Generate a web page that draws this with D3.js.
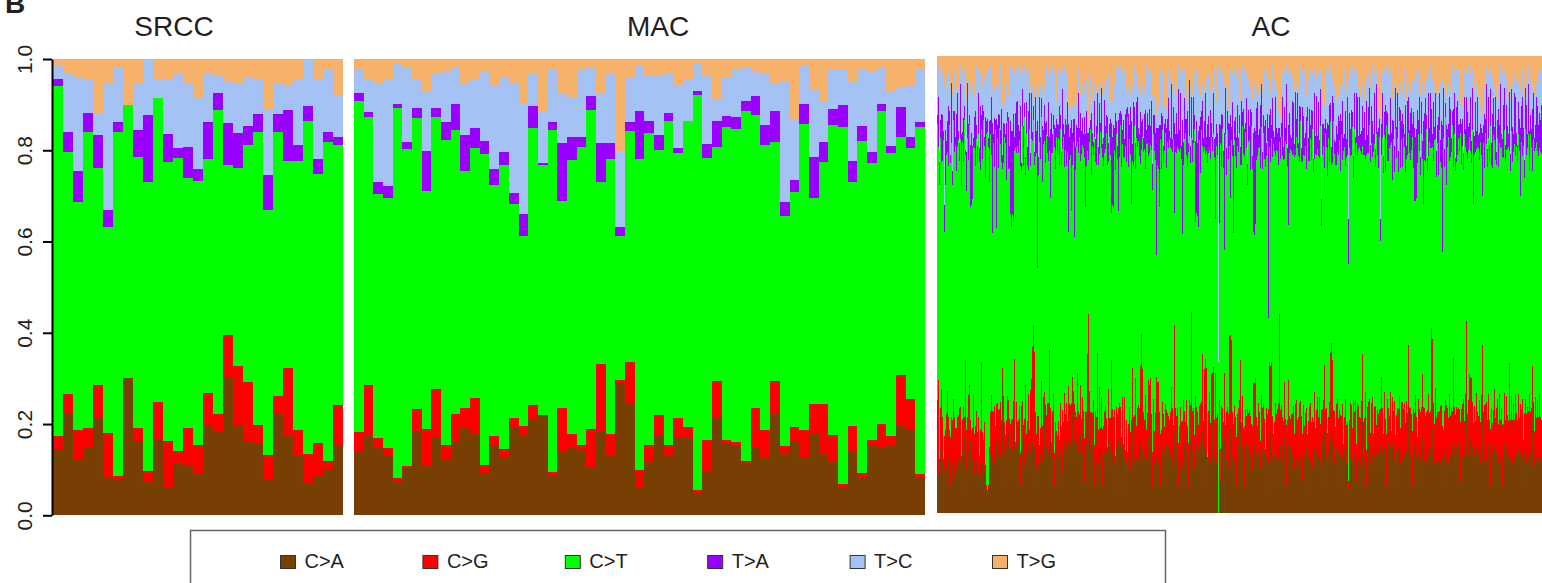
<!DOCTYPE html>
<meta charset="utf-8">
<style>
    body { margin: 0; background: #fff; }
    text { font-family: "Liberation Sans", Arial, sans-serif; fill: #231f20; }
    .bars rect { shape-rendering: crispEdges; }
</style>
<body>
<svg id="chart" width="1542" height="583"></svg>
<script src="https://d3js.org/d3.v7.min.js"></script>
<script>
// mutation types, bottom to top
var types = ["C>A", "C>G", "C>T", "T>A", "T>C", "T>G"];
var typeColors = ["#783f04", "#ff0000", "#00ff00", "#9900ff", "#a4c2f4", "#f6b26b"];
var yTicks = [0, 0.2, 0.4, 0.6, 0.8, 1.0];
var panelNames = ["SRCC", "MAC", "AC"];

// SRCC, % per sample
var srccCA = [14.5,22.3,12.3,15.0,21.4,8.2,8.0,30.1,16.3,7.4,16.6,6.1,11.3,11.0,9.1,19.8,18.5,30.3,19.8,16.3,15.8,7.8,22.2,17.4,13.2,6.9,8.7,10.1,15.3];
var srccCG = [2.9,4.3,6.5,4.1,7.1,9.8,0.6,0,2.8,2.3,8.2,10.2,2.8,8.1,6.3,7.0,3.7,9.2,12.9,12.9,4.0,5.4,3.9,14.9,5.6,6.5,7.1,1.8,8.9];
var srccCT = [76.7,53.0,49.8,64.9,47.6,45.1,75.5,59.8,59.4,63.3,66.6,61.1,64.2,54.8,57.8,51.2,66.7,37.3,43.4,51.9,64.2,53.6,57.9,45.3,58.8,73.0,59.1,69.9,56.9];
var srccTA = [1.5,4.4,6.8,4.1,7.2,3.7,2.1,0,5.9,14.7,0,6.1,2.1,6.8,2.8,8.2,3.6,9.1,7.6,4.2,3.9,7.7,3.9,11.3,3.5,3.3,3.1,2.2,1.8];
var srccTC = [2.9,12.7,20.6,7.5,4.7,27.7,11.9,0,10.3,12.3,4.2,12.0,16.5,13.9,15.5,10.7,3.8,9.3,11.0,10.5,7.5,14.4,6.8,5.4,14.3,10.3,17.6,13.8,9.0];
var srccTG = [1.5,3.3,4.0,4.4,12.0,5.5,1.9,10.1,5.3,0,4.4,4.5,3.1,5.4,8.5,3.1,3.7,4.8,5.3,4.2,4.6,11.1,5.3,5.7,4.6,0,4.4,2.2,8.1];

// MAC, % per sample
var macCA = [14.2,17.4,14.9,13.0,7.2,10.3,18.4,10.9,16.9,12.1,16.0,19.1,17.9,9.2,15.3,12.7,19.1,17.3,21.0,21.9,8.6,14.0,14.7,14.3,10.5,18.2,13.3,28.9,24.4,6.1,11.6,17.5,13.1,17.1,16.9,4.9,9.6,21.4,15.6,15.3,11.2,14.7,12.5,22.2,13.5,16.2,12.7,17.9,13.4,11.6,5.9,13.8,8.1,15.3,14.7,15.2,19.5,18.8,8.1];
var macCG = [4.0,11.1,2.0,1.7,0.9,0.6,5.0,8.1,10.7,3.2,6.1,4.5,7.7,1.9,2.0,1.9,2.3,2.2,3.1,0,0.8,9.6,3.2,1.0,8.5,14.9,4.6,0.7,9.1,3.9,3.9,4.4,2.4,4.3,2.4,0.6,7.0,8.0,1.0,0.7,0.8,8.9,6.1,7.2,1.6,3.1,6.1,6.6,11.1,6.1,0.9,5.7,1.1,1.3,5.4,2.1,11.2,6.6,0.9];
var macCT = [72.6,58.8,53.5,54.8,81.2,69.3,63.7,52.0,59.7,67.0,62.4,51.8,54.9,68.1,55.0,62.1,46.8,41.7,60.8,54.8,75.1,45.2,60.0,65.4,69.9,39.9,60.1,31.7,50.7,68.0,68.2,58.2,70.9,58.0,67.1,86.6,61.8,51.3,68.5,68.6,76.6,64.1,62.5,52.4,50.6,51.5,67.0,45.0,53.0,67.8,78.3,53.5,72.8,60.6,68.5,62.1,52.2,55.1,76.1];
var macTA = [1.7,1.1,2.6,2.7,0.8,1.6,2.1,8.8,1.9,3.9,5.6,7.9,4.3,2.8,3.5,2.9,2.4,4.8,4.8,0.5,1.7,12.7,5.0,2.2,3.0,8.7,3.7,1.8,2.0,10.6,2.7,3.2,1.7,1.1,0.1,0.9,3.0,5.7,2.4,2.7,2.2,4.2,4.4,6.8,2.9,2.6,4.3,9.0,4.4,3.5,4.9,4.6,3.3,2.4,1.5,1.5,6.6,2.4,1.1];
var macTC = [5.2,7.0,21.6,23.2,8.8,16.4,6.3,13.2,7.5,11.1,7.9,11.3,10.7,15.1,18.3,16.3,24.1,24.3,7.2,11.2,11.5,11.0,8.6,14.8,6.1,10.7,15.2,16.5,9.7,10.0,9.9,13.2,8.8,13.8,9.0,6.0,14.9,4.7,8.6,10.5,7.2,5.2,11.4,6.1,26.6,13.4,8.4,14.8,8.7,8.8,7.8,17.6,12.5,17.7,8.1,11.9,4.4,11.4,11.6];
var macTG = [2.3,4.6,5.4,4.6,1.1,1.8,4.5,7.0,3.3,2.7,2.0,5.4,4.5,2.9,5.9,4.1,5.3,9.7,3.1,11.6,2.3,7.5,8.5,2.3,2.0,7.6,3.1,20.4,4.1,1.4,3.7,3.5,3.1,5.7,4.5,1.0,3.7,8.9,3.9,2.2,2.0,2.9,3.1,5.3,4.8,13.2,1.5,6.7,9.4,2.2,2.2,4.8,2.2,2.7,1.8,7.2,6.1,5.7,2.2];

// AC, % per sample (rough reads, 20 samples per line)
var acCA = [
21,8,9,14,8,11,6,9,13,10,21,12,14,6,15,11,17,8,12,10,
15,12,18,11,5,14,13,17,12,10,15,13,20,16,8,12,14,9,13,11,
10,9,7,8,14,11,7,9,6,5,4,5,9,13,22,12,15,11,14,16,
18,13,15,12,16,30,17,13,6,15,12,18,11,14,9,13,16,20,10,14,
11,15,13,6,12,16,14,10,17,13,12,15,11,14,23,16,13,15,12,10,
14,11,6,13,16,12,15,22,11,14,17,13,12,15,10,12,14,6,11,13,
6,12,10,14,11,9,13,15,17,14,12,16,18,15,13,23,14,16,12,15,
17,13,15,18,12,14,16,7,13,15,20,22,17,14,12,16,13,6,15,12,
14,11,16,13,15,6,12,14,11,13,10,16,12,14,21,13,15,11,5,14,
12,16,13,15,11,14,7,12,9,11,5,13,12,10,14,21,13,11,15,12,
14,12,17,16,23,14,12,13,15,11,14,17,15,13,12,6,14,11,13,12,
15,11,13,6,12,14,10,13,11,15,12,14,10,13,21,12,11,18,13,15,
12,6,14,11,13,10,12,15,11,14,13,6,12,16,21,14,12,10,13,15,
12,14,11,16,13,18,12,15,14,13,6,12,15,11,14,20,13,12,15,11,
13,0,14,7,12,15,11,17,13,12,14,10,20,18,16,12,13,11,14,6,
12,15,13,21,11,14,12,6,13,15,12,14,11,13,12,10,14,15,12,13,
11,14,12,10,13,15,11,13,5,12,14,11,16,18,14,12,7,13,11,12,
14,12,22,15,13,11,14,16,12,6,13,15,12,14,11,13,12,10,14,12,
13,11,15,12,14,7,12,13,11,15,5,12,14,11,13,10,12,14,11,13,
15,12,14,11,13,16,12,18,14,12,6,13,15,17,24,16,13,11,12,15,
12,14,11,13,15,12,6,14,12,11,9,5,13,12,14,11,15,13,12,7,
14,12,13,11,15,22,13,12,14,6,13,15,12,11,14,13,10,12,15,13,
11,13,12,15,17,13,11,14,12,6,13,15,12,14,11,16,13,12,7,14,
12,15,13,11,14,12,16,13,11,14,12,23,15,13,12,6,14,15,13,12,
7,13,15,12,14,17,13,12,14,11,15,13,12,14,25,18,13,11,15,12,
14,12,13,11,15,12,6,14,13,12,15,11,14,13,12,15,21,13,11,14,
12,15,13,7,14,12,16,13,15,25,14,12,18,16,17,14,12,13,11,15,
12,14,13,11,15,22,13,12,14,11,13,15,12,6,14,13,11,15,12,14,
13,11,15,12,14,6,13,15,12,14,11,13,20,12,14,11,13,12,15,13,
11,14,12,13,15,12,6,14,13,11,15,12,14,13,12,21,14,11,13,12,
14,12,15,11,13];
var acCG = [
4,21,3,9,20,10,6,8,5,12,7,9,4,11,6,10,8,13,7,9,
6,10,5,12,8,7,11,4,22,9,6,13,8,5,10,7,12,9,6,11,
8,12,6,10,19,7,9,11,5,1,1,1,6,9,4,11,7,13,5,8,
6,10,8,12,5,2,9,7,11,6,13,8,10,5,12,7,9,14,6,10,
9,5,11,7,13,8,6,10,12,4,9,11,7,14,6,21,28,22,10,8,
7,11,9,6,12,8,10,5,13,7,9,11,24,8,6,10,12,7,9,5,
11,8,6,10,9,13,7,11,5,10,8,12,6,9,11,7,13,8,10,6,
14,9,7,11,8,12,6,10,9,7,15,22,10,8,11,6,12,9,7,10,
21,8,11,6,10,13,7,9,12,8,5,11,9,7,13,10,6,12,8,9,
10,7,12,8,6,11,9,13,5,10,8,7,11,9,6,12,8,10,16,7,
9,12,6,18,15,18,10,8,11,7,9,12,14,16,10,8,11,7,9,18,
14,18,9,11,7,10,12,6,13,8,10,7,11,9,6,12,8,24,10,7,
11,9,6,12,8,10,13,7,9,11,6,10,12,8,23,9,11,7,13,8,
10,6,12,9,11,17,8,18,19,19,7,10,12,9,17,11,19,8,16,10,
9,0,11,7,12,8,10,14,6,11,9,12,19,21,23,10,7,12,8,11,
10,8,12,14,9,11,7,13,10,6,12,8,11,9,7,10,15,14,17,9,
8,11,10,6,12,9,13,7,10,11,8,12,17,15,19,9,11,7,13,10,
9,12,22,8,11,10,7,12,9,13,8,14,10,6,12,9,11,8,10,13,
7,11,9,12,8,10,13,6,11,9,12,8,10,13,7,11,9,12,8,10,
11,9,12,8,10,7,13,15,9,11,12,8,10,17,15,18,9,12,7,10,
13,8,11,9,6,12,10,7,13,9,11,2,8,12,10,7,11,9,13,8,
10,12,8,11,9,13,7,10,12,8,11,9,13,7,10,12,8,11,9,6,
12,9,11,8,13,10,7,12,9,11,13,8,10,12,7,11,9,13,10,8,
11,9,12,8,10,13,7,11,9,12,10,14,8,11,9,12,10,7,13,9,
10,12,8,11,9,14,10,12,7,11,9,13,10,8,17,20,11,9,12,10,
8,11,9,13,10,7,12,9,11,13,8,10,12,9,11,7,14,10,12,9,
11,8,10,13,9,12,10,7,11,17,9,12,13,14,13,10,8,11,9,12,
10,8,12,9,11,15,9,12,10,13,8,11,9,12,10,7,11,13,9,10,
12,9,11,8,10,13,7,11,9,12,10,8,13,9,11,10,12,8,11,9,
10,12,9,11,8,13,10,9,12,11,8,10,13,9,11,12,10,8,12,9,
11,9,12,10,8];
var acCT = [
61,51,62,59,51,56,72,45,53,58,55,55,67,61,60,53,61,58,63,58,
59,62,54,58,62,62,55,65,46,55,61,52,57,48,50,51,54,65,57,59,
60,62,67,57,51,61,70,61,66,76,80,74,61,61,53,40,59,54,65,39,
58,54,62,56,58,44,52,63,64,54,59,53,56,45,44,44,40,46,67,54,
61,58,60,63,55,59,59,65,48,65,59,49,66,51,52,46,45,43,56,64,
32,55,67,60,56,56,55,56,54,60,59,53,44,46,66,56,58,67,56,65,
62,62,61,60,60,56,63,49,59,52,59,34,54,56,42,47,55,37,53,59,
51,56,62,51,57,57,57,64,45,54,45,34,55,62,54,59,54,68,54,58,
48,61,50,66,54,62,57,59,55,63,65,50,62,58,33,45,46,58,65,59,
57,43,56,61,61,55,67,52,68,58,72,58,58,65,47,47,55,62,48,63,
57,59,55,47,39,52,57,61,50,62,62,49,53,50,59,61,58,62,56,27,
48,47,45,64,60,59,56,61,60,54,60,58,64,58,51,59,62,25,56,60,
57,63,63,56,61,41,52,59,64,54,57,67,56,54,38,56,58,67,39,42,
43,45,57,53,59,46,59,51,44,48,69,56,54,59,53,49,51,57,34,60,
57,33,39,67,54,61,59,27,63,54,60,57,42,30,45,56,43,57,60,60,
60,56,59,45,57,58,62,59,62,58,52,60,58,56,64,59,33,33,33,59,
59,58,58,61,57,55,60,56,66,55,61,20,47,46,49,56,66,60,54,59,
57,53,38,56,60,57,60,48,62,61,58,34,60,58,61,58,54,63,55,58,
59,60,53,60,58,59,58,59,59,55,68,57,56,58,58,63,58,50,62,57,
56,57,54,64,41,56,56,44,61,57,58,61,54,49,41,44,62,58,58,55,
54,61,58,55,61,54,68,59,51,61,59,48,62,54,56,64,51,62,54,66,
54,58,59,62,53,46,59,61,50,66,58,54,60,61,57,52,65,57,54,63,
57,55,60,37,49,59,60,55,55,67,54,54,61,53,64,51,59,51,67,58,
59,55,59,58,57,53,60,56,56,56,57,47,55,57,56,65,56,47,43,48,
61,58,57,54,59,48,44,57,55,62,56,52,60,57,41,42,53,64,54,56,
59,54,61,55,55,38,64,55,60,51,57,62,51,59,56,62,43,59,57,53,
56,59,57,64,54,57,52,63,54,37,59,53,53,50,48,59,49,57,59,55,
58,61,53,62,53,33,59,53,60,56,57,56,58,65,56,57,59,56,57,56,
57,58,55,59,60,58,60,57,58,55,57,63,47,56,57,58,58,60,52,59,
58,57,59,46,59,53,65,54,59,58,56,60,51,61,57,44,57,65,54,61,
55,57,56,58,60];
var acTA = [
2,11,5,4,11,10,2,6,12,3,7,13,3,2,13,3,2,9,2,13,
12,2,4,12,12,2,10,3,1,9,12,8,2,14,16,12,2,7,12,3,
4,9,3,14,3,12,2,2,14,3,3,2,14,3,13,25,2,11,2,24,
3,12,3,3,12,3,9,3,2,13,2,12,5,20,22,18,24,3,8,11,
10,6,2,13,2,8,9,3,4,7,4,13,8,3,10,2,3,3,13,5,
32,4,10,5,4,13,3,8,9,3,4,13,3,15,9,4,3,5,9,4,
7,3,13,3,3,13,3,7,7,9,11,24,5,6,20,7,5,26,5,5,
3,13,2,11,5,6,3,9,16,12,4,6,3,2,14,3,3,8,5,9,
9,4,11,2,13,3,6,12,5,4,11,4,3,8,20,15,18,5,13,3,
3,20,10,3,12,3,9,4,7,12,2,12,3,11,18,4,14,4,6,8,
11,3,5,12,6,4,3,8,13,3,7,7,10,4,11,6,4,8,6,28,
8,9,18,3,13,3,4,6,3,9,5,11,2,2,14,3,7,20,4,9,
3,13,5,12,3,25,5,9,3,8,12,2,12,4,9,5,10,3,18,20,
16,22,3,13,4,10,3,6,13,3,9,8,3,11,3,3,9,4,18,5,
5,0,22,4,12,3,4,26,10,6,4,8,5,18,3,12,20,4,9,7,
9,3,4,4,14,3,10,6,2,11,5,7,3,14,3,3,22,24,20,12,
12,3,4,14,9,4,4,7,11,3,6,42,7,12,3,13,3,3,13,5,
4,8,3,5,3,13,3,11,3,13,4,22,9,3,3,12,11,3,14,4,
12,3,12,3,3,12,9,4,3,12,3,5,12,3,11,4,3,14,4,13,
3,12,4,8,6,7,5,9,3,4,12,3,13,4,4,15,4,3,5,9,
4,9,4,13,3,13,3,3,12,4,13,10,8,6,10,3,5,8,4,11,
13,3,11,4,5,9,6,10,4,12,4,10,8,4,8,8,4,11,4,11,
5,9,4,5,7,10,4,5,15,3,11,6,3,10,2,14,4,6,9,7,
10,5,3,13,4,12,3,3,15,3,12,8,5,11,9,3,13,16,14,15,
12,3,12,4,7,4,18,11,14,3,3,14,3,12,9,3,13,3,10,6,
4,13,8,5,11,28,11,4,3,14,4,3,14,11,3,3,13,9,3,12,
12,3,6,3,9,6,4,8,4,12,11,5,3,12,5,9,16,4,11,4,
11,3,6,4,6,14,4,12,3,13,4,9,4,8,5,12,8,3,14,3,
4,13,4,14,3,4,12,9,4,10,5,3,13,4,9,8,4,11,13,3,
4,7,7,15,8,13,4,4,9,11,3,11,9,4,4,14,10,3,5,10,
10,7,8,7,11];
var acTC = [
8,6,16,12,4,9,11,26,13,14,5,7,10,15,3,17,7,9,12,5,
5,10,14,4,9,13,6,8,15,12,3,10,11,12,13,14,15,5,8,13,
14,5,12,7,11,4,9,13,6,10,8,15,5,12,4,8,14,6,10,8,
12,6,8,14,4,11,3,5,13,9,9,5,15,12,10,13,7,14,4,7,
5,13,9,7,15,4,10,8,16,6,12,9,3,14,6,11,8,12,5,10,
11,14,5,12,7,8,13,4,10,12,9,6,12,13,5,15,8,11,7,4,
6,12,5,9,14,4,10,15,7,11,4,4,8,4,5,6,4,3,12,5,
9,5,11,4,14,8,13,6,14,7,3,2,3,10,6,7,5,4,15,8,
4,13,7,9,5,11,14,3,12,8,6,15,4,4,3,8,12,10,4,12,
14,11,4,10,6,12,5,15,8,4,9,7,11,3,11,13,5,9,12,6,
6,9,13,4,12,8,15,5,7,14,3,11,5,12,4,16,9,4,6,3,
4,5,10,12,5,9,14,4,4,4,5,6,10,13,4,11,7,9,14,4,
12,5,9,4,11,11,13,6,7,4,8,12,3,14,6,10,4,9,12,11,
15,10,12,5,10,4,14,7,5,13,6,9,12,4,6,11,3,15,7,5,
7,65,10,12,5,9,13,11,4,14,8,3,10,10,8,6,14,11,5,13,
4,15,8,11,6,10,4,13,9,5,16,7,12,5,10,13,13,10,13,4,
6,9,13,5,4,14,8,12,5,15,6,11,10,4,11,7,8,13,6,9,
12,4,3,4,3,5,13,8,10,4,12,11,6,14,9,5,7,12,4,8,
5,12,6,9,14,7,4,15,11,5,9,13,4,12,6,8,15,5,11,4,
10,6,13,4,23,5,6,5,9,13,7,11,5,8,12,4,7,12,15,6,
13,5,11,6,12,4,9,14,7,11,5,31,4,13,6,10,15,4,12,5,
6,11,4,9,14,5,12,3,15,5,10,7,4,13,6,12,9,4,15,3,
12,4,3,22,3,4,15,9,5,10,4,13,11,6,12,5,10,14,4,8,
4,13,8,6,12,5,10,14,4,11,6,3,13,5,9,10,4,10,5,12,
5,11,4,14,8,13,10,5,6,8,14,4,10,6,4,12,7,9,4,13,
12,6,4,13,5,10,4,14,8,7,12,9,6,4,13,10,5,4,14,8,
4,12,4,4,3,3,14,6,11,5,4,13,9,5,12,4,12,10,6,11,
5,9,4,4,4,4,12,6,9,4,13,5,14,4,11,8,6,9,5,12,
11,5,10,4,9,14,5,4,12,6,13,8,4,15,4,10,9,4,6,12,
12,4,5,8,4,6,11,14,4,5,13,4,9,8,13,5,4,10,12,3,
6,12,4,10,5];
var acTG = [
5,3,8,2,9,4,6,7,3,5,10,4,2,7,3,9,5,3,6,8,
3,7,5,2,9,4,8,3,6,10,3,5,2,8,4,6,3,9,4,2,
6,3,9,4,2,7,3,5,8,4,6,3,10,2,5,7,3,8,4,6,
3,7,5,2,8,11,12,10,4,6,3,9,5,2,7,3,6,4,9,3,
5,2,8,4,10,3,6,2,7,4,9,3,5,8,2,6,3,10,4,7,
3,9,4,6,2,8,3,7,5,2,10,4,6,3,8,2,5,4,9,10,
9,3,6,4,8,3,5,2,7,4,6,11,10,12,9,11,10,11,8,10,
7,3,5,9,2,6,4,8,3,5,14,15,13,4,7,10,14,6,3,8,
4,8,3,6,2,9,4,7,3,5,8,4,11,10,12,10,3,6,9,2,
6,3,9,2,7,4,10,3,5,8,2,6,4,9,3,7,5,2,8,4,
3,7,4,9,2,6,3,8,5,2,10,4,7,3,6,9,4,9,11,13,
12,11,5,3,8,4,6,11,10,12,9,3,7,5,2,8,4,6,3,9,
5,2,8,4,10,3,6,3,7,10,4,8,2,6,3,9,5,4,7,3,
4,7,3,9,2,6,4,8,3,5,10,4,6,8,9,7,5,3,11,10,
10,2,5,3,8,4,9,6,3,7,4,12,5,3,8,4,6,3,9,5,
7,3,5,10,4,2,8,3,6,4,9,5,3,7,2,10,4,6,3,8,
4,9,3,6,2,8,5,3,10,4,7,5,3,8,4,2,9,5,3,7,
5,12,13,14,12,4,8,3,6,2,9,4,7,3,10,5,3,8,4,6,
3,8,5,2,7,4,10,3,6,9,2,5,8,3,6,4,9,3,7,5,
8,4,6,3,9,10,9,11,5,3,8,4,6,2,9,5,3,7,4,10,
4,9,3,7,2,6,10,3,5,8,4,5,9,3,6,2,8,4,6,3,
3,7,5,9,2,6,4,10,3,5,8,4,3,7,5,2,9,4,6,3,
5,12,11,14,12,4,8,3,6,2,9,4,7,3,5,10,4,6,3,8,
4,9,3,6,2,8,5,3,7,10,4,6,3,8,2,5,9,6,13,4,
7,3,5,9,2,6,4,8,3,5,10,4,6,2,8,5,3,7,4,9,
3,8,4,6,10,5,3,7,2,9,4,6,3,8,5,2,7,4,10,3,
6,3,11,10,12,11,8,3,5,4,9,2,6,4,7,3,5,8,4,6,
4,9,13,11,12,13,3,7,5,2,8,4,6,3,9,5,3,7,4,10,
3,7,5,2,9,4,6,3,8,5,2,10,4,7,3,6,9,4,3,5,
8,6,9,8,7,3,5,10,3,6,4,2,8,5,3,7,4,9,3,6,
5,3,9,4,6];

var svg = d3.select("#chart");

var panels = [
    { name: panelNames[0], series: [srccCA, srccCG, srccCT, srccTA, srccTC, srccTG], x0: 53.3, x1: 343.3, top: 59, bottom: 515.3, titleX: 174 },
    { name: panelNames[1], series: [macCA, macCG, macCT, macTA, macTC, macTG], x0: 354, x1: 925, top: 59, bottom: 515.3, titleX: 658 },
    { name: panelNames[2], series: [acCA, acCG, acCT, acTA, acTC, acTG], x0: 937, x1: 1542, top: 56, bottom: 512.7, titleX: 1271 }
];

var stack = d3.stack().keys(types).offset(d3.stackOffsetExpand);

panels.forEach(function(p) {
    var n = p.series[0].length;
    var rows = d3.range(n).map(function(i) {
        var r = { i: i };
        types.forEach(function(t, k) { r[t] = p.series[k][i]; });
        return r;
    });

    var x = d3.scaleBand().domain(d3.range(n)).range([p.x0, p.x1]).padding(0);
    var y = d3.scaleLinear().domain([0, 1]).range([p.bottom, p.top]);
    var bw = x.bandwidth();

    var g = svg.append("g").attr("class", "bars");
    g.selectAll("g")
        .data(stack(rows))
        .join("g")
        .attr("fill", function(d, k) { return typeColors[k]; })
        .selectAll("rect")
        .data(function(d) { return d; })
        .join("rect")
        .attr("x", function(d) { return Math.round(x(d.data.i)); })
        .attr("width", function(d) { return Math.round(x(d.data.i) + bw) - Math.round(x(d.data.i)); })
        .attr("y", function(d) { return Math.round(y(d[1])); })
        .attr("height", function(d) { return Math.round(y(d[0])) - Math.round(y(d[1])); });

    svg.append("text")
        .attr("x", p.titleX)
        .attr("y", 36)
        .attr("text-anchor", "middle")
        .style("font-size", "28px")
        .text(p.name);
});

// y axis
var yAxisScale = d3.scaleLinear().domain([0, 1]).range([515.3, 59]);
var axis = svg.append("g")
    .attr("transform", "translate(52,0)")
    .call(d3.axisLeft(yAxisScale).tickValues(yTicks).tickFormat(d3.format(".1f")).tickSize(9).tickSizeOuter(0));
axis.select(".domain").attr("stroke", "#000").attr("stroke-width", 2);
axis.selectAll(".tick line").attr("stroke", "#000").attr("stroke-width", 2);
axis.selectAll(".tick text")
    .attr("x", null).attr("dy", null)
    .attr("transform", "translate(-20,0) rotate(-90)")
    .attr("text-anchor", "middle")
    .style("font-size", "21px")
    .style("font-family", "'Liberation Sans', Arial, sans-serif")
    .attr("fill", "#231f20");

// panel letter, cut at the top
svg.append("text")
    .attr("x", 5).attr("y", 13)
    .style("font-size", "28px").style("font-weight", "bold")
    .text("B");

// legend
svg.append("rect")
    .attr("x", 190.5).attr("y", 530.5)
    .attr("width", 975).attr("height", 80)
    .attr("fill", "none").attr("stroke", "#666").attr("stroke-width", 1.5);

var legend = svg.selectAll("g.legend")
    .data(types)
    .join("g")
    .attr("class", "legend")
    .attr("transform", function(d, k) { return "translate(" + (280.5 + k * 142.4) + ",555.5)"; });
legend.append("rect")
    .attr("width", 15).attr("height", 13)
    .attr("fill", function(d, k) { return typeColors[k]; })
    .attr("stroke", "#333").attr("stroke-width", 1);
legend.append("text")
    .attr("x", 24).attr("y", 12.5)
    .style("font-size", "20px")
    .text(function(d) { return d; });
</script>
</body>
